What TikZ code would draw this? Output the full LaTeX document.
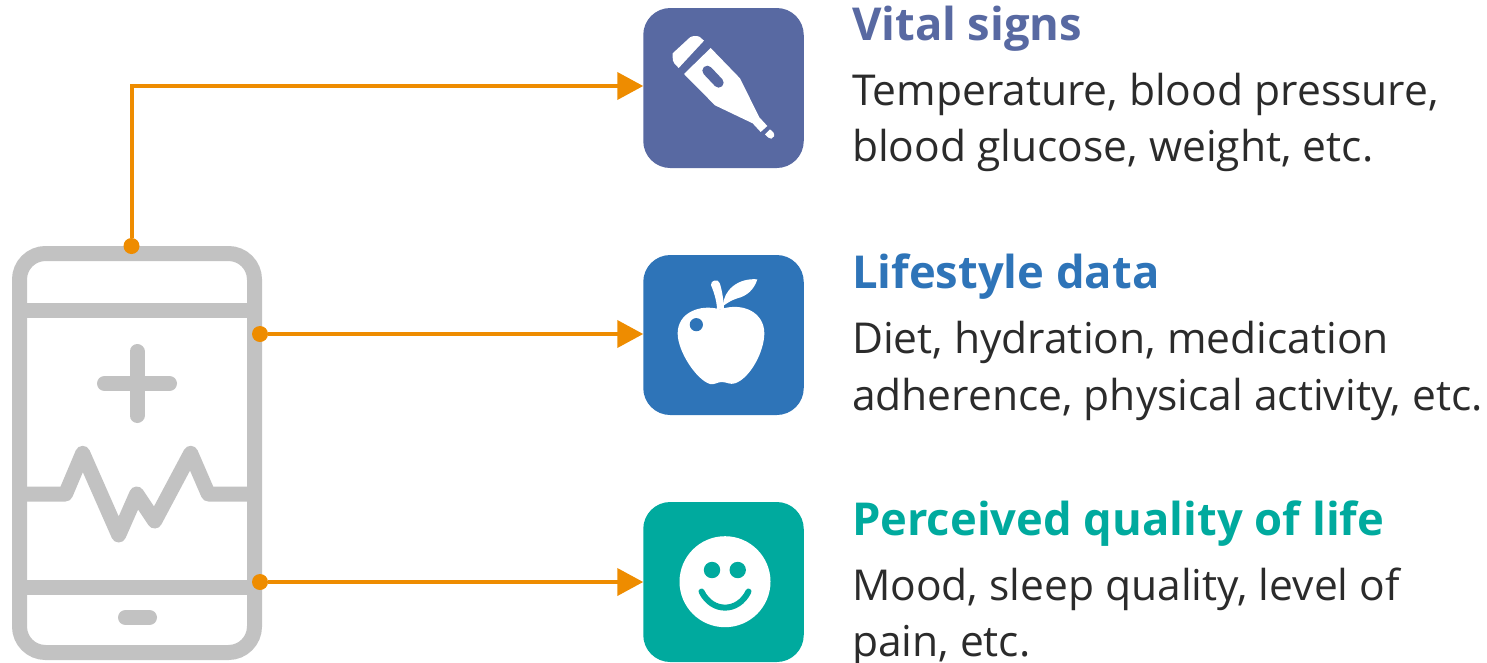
\documentclass[tikz,border=0pt]{standalone}
\usepackage{fontspec}
\setmainfont{Open Sans}
\usetikzlibrary{arrows.meta}
\definecolor{cvital}{HTML}{5869A2}
\definecolor{clife}{HTML}{2E74B8}
\definecolor{cqol}{HTML}{00AA9E}
\definecolor{corange}{HTML}{EE8C00}
\definecolor{cgrey}{HTML}{C2C2C2}
\definecolor{ctext}{HTML}{2B2B2B}
\tikzset{
  iconbox/.style={rectangle,rounded corners=27pt,minimum width=160.5pt,minimum height=160pt,inner sep=0pt,outer sep=0pt,fill=#1},
  phonebody/.style={rectangle,draw=cgrey,line width=15pt,rounded corners=26pt,minimum width=235pt,minimum height=399pt,inner sep=0pt,outer sep=0pt},
  phoneline/.style={draw=cgrey,line width=15pt},
  phoneround/.style={draw=cgrey,line width=15pt,line cap=round,line join=round},
  portdot/.style={circle,fill=corange,minimum size=16pt,inner sep=0pt,outer sep=0pt},
  conn/.style={draw=corange,line width=4pt,-{Triangle[length=26pt,width=27pt]}},
  heading/.style={anchor=base west,inner sep=0pt,outer sep=0pt,font=\fontsize{45.35}{45.35}\selectfont\bfseries,text=#1},
  bodytext/.style={anchor=base west,inner sep=0pt,outer sep=0pt,font=\fontsize{42.55}{42.55}\selectfont,text=ctext},
}
\begin{document}
\begin{tikzpicture}[x=1pt,y=-1pt]
\useasboundingbox (0,0) rectangle (1487,662);
% phone
\node[phonebody] (phone) at (137,453) {};
\draw[phoneline] (phone.west |- 0,310) -- (phone.east |- 0,310);
\draw[phoneline] (phone.west |- 0,587) -- (phone.east |- 0,587);
\draw[phoneround] (137,351.5) -- (137,415.5);
\draw[phoneround] (104.5,383.5) -- (169.5,383.5);
\draw[phoneround] (125.5,617.5) -- (149.5,617.5);
\draw[phoneround,line cap=butt] (20,494) -- (65.5,494) -- (82.7,453.3) -- (118.7,535) -- (136.7,494) -- (154.7,521) -- (190.7,453.3) -- (208.3,494) -- (254,494);
% boxes
\node[iconbox=cvital] (box1) at (723.5,88) {};
\node[iconbox=clife] (box2) at (723.5,335) {};
\node[iconbox=cqol] (box3) at (723.5,582) {};
% ports
\node[portdot] (d1) at (131.5,246) {};
\node[portdot] (d2) at (260,334) {};
\node[portdot] (d3) at (260,582) {};
\draw[conn] (d1) |- ([yshift=2pt]box1.west);
\draw[conn] (d2) -- ([yshift=1pt]box2.west);
\draw[conn] (d3) -- (box3.west);
% thermometer
\begin{scope}[shift={(630,0)},x=0.3333pt,y=-0.3333pt]
\fill[white] (128,160) -- (180,112) .. controls (188,107) and (200,107) .. (208,110) -- (222,122) -- (146,204) -- (133,190) .. controls (129,185) and (128,180) .. (128,172) -- cycle;
\fill[white] (242,144) -- (330,235) -- (388,352) -- (412,378) -- (392,396) -- (368,370) -- (255,316) -- (162,222) -- cycle;
\draw[cvital,line width=10pt,line cap=round] (232,212) -- (266,248);
\fill[white] (405,403) -- (420,388) -- (430,397) .. controls (436,405) and (432,414) .. (424,416) .. controls (418,417) and (414,412) .. (405,403) -- cycle;
\end{scope}
% apple
\begin{scope}[shift={(630,245)},x=0.3333pt,y=-0.3333pt]
\fill[white] (270,193) .. controls (210,176) and (143,203) .. (143,265) .. controls (143,320) and (200,405) .. (240,417) .. controls (255,420) and (262,411) .. (275,411) .. controls (290,411) and (300,420) .. (315,415) .. controls (360,400) and (403,320) .. (403,265) .. controls (403,203) and (340,170) .. (270,193) -- cycle;
\fill[clife] (199,239) circle[radius=6.6pt];
\fill[white] (243,120) .. controls (241,106) and (264,100) .. (269,114) .. controls (276,135) and (281,165) .. (282,192) -- (261,192) .. controls (260,165) and (251,140) .. (243,120) -- cycle;
\fill[white] (279,183) .. controls (280,135) and (325,98) .. (382,103) .. controls (372,135) and (350,153) .. (322,160) .. controls (305,165) and (290,175) .. (279,183) -- cycle;
\end{scope}
% smiley
\fill[white] (725,581.7) circle[radius=45.5pt];
\fill[cqol] (712,570) circle[radius=8.2pt];
\fill[cqol] (737.7,570) circle[radius=8.2pt];
\draw[cqol,line width=6pt,line cap=round] (701.5,591.5) .. controls (712,613) and (738,613) .. (748.5,591.5);
% text
\node[heading=cvital] (h1) at (852,40) {Vital signs};
\node[bodytext] (t1a) at (852,105) {Temperature, blood pressure,};
\node[bodytext] (t1b) at (852,161.5) {blood glucose, weight, etc.};
\node[heading=clife] (h2) at (852,288) {Lifestyle data};
\node[bodytext] (t2a) at (852,353) {Diet, hydration, medication};
\node[bodytext] (t2b) at (852,410) {adherence, physical activity, etc.};
\node[heading=cqol] (h3) at (852,535) {Perceived quality of life};
\node[bodytext] (t3a) at (852,600) {Mood, sleep quality, level of};
\node[bodytext] (t3b) at (852,656.5) {pain, etc.};
\end{tikzpicture}
\end{document}
